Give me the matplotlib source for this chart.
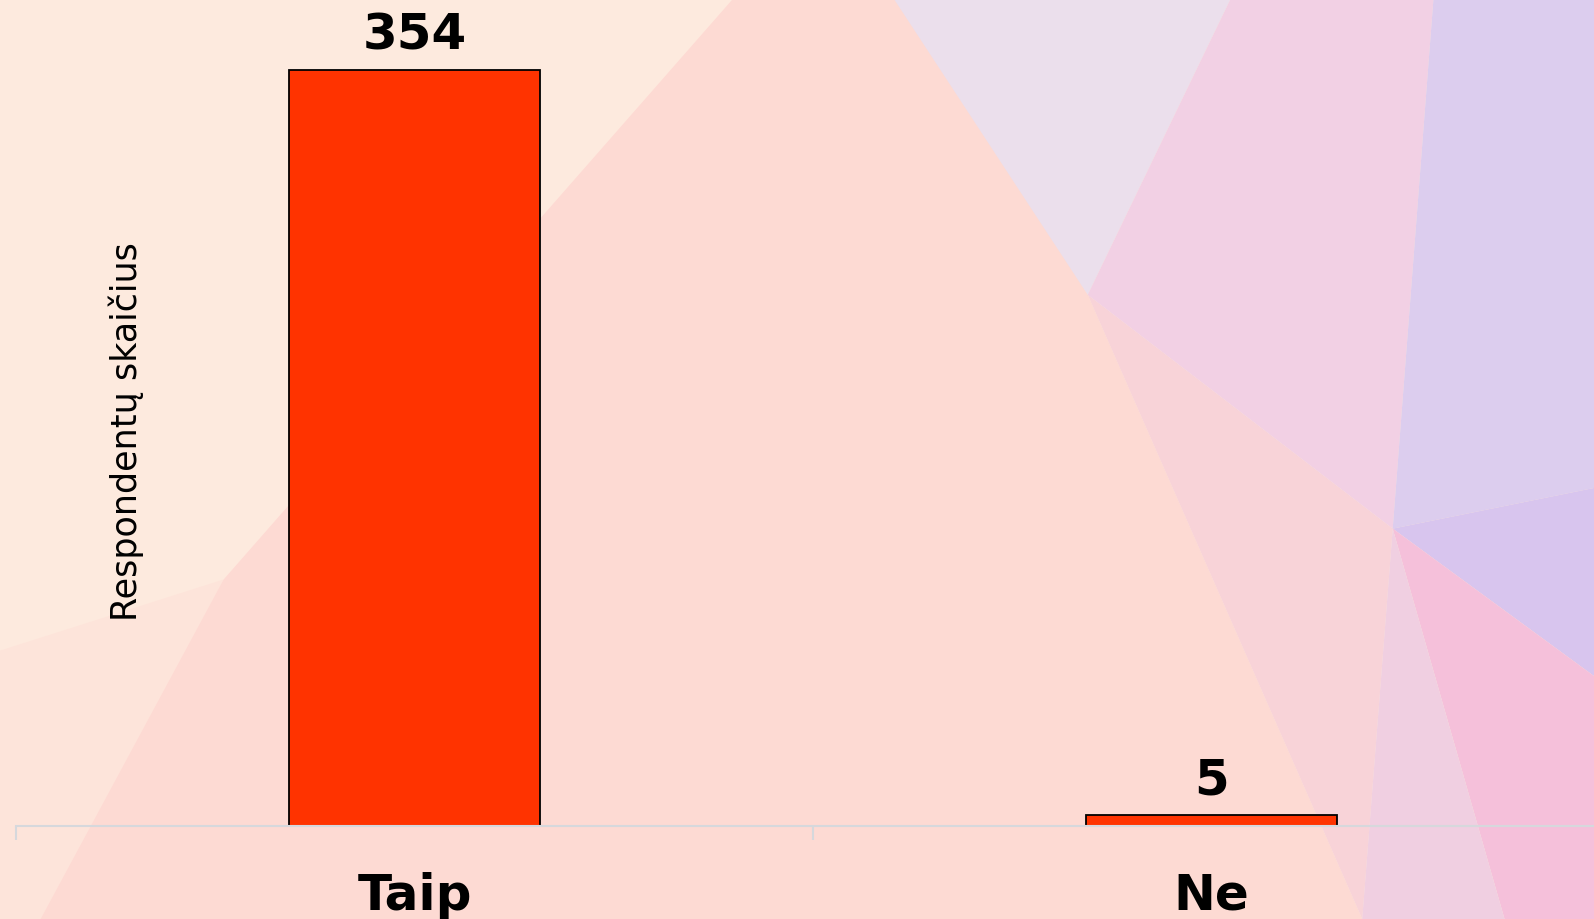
import matplotlib.pyplot as plt
from matplotlib.patches import Polygon

# duomenys
categories = ['Taip', 'Ne']
counts = [354, 5]
y_title = 'Respondentų skaičius'

fig = plt.figure(figsize=(15.94, 9.19), dpi=100)
fig.patch.set_facecolor('#fdeade')

# fono daugiakampiai (koordinatės paveikslo pikseliais, 1568x904)
bg_shapes = [
    ([(0, 904), (0, 640), (220, 570), (60, 904)], '#fde4da'),
    ([(40, 904), (220, 570), (720, 0), (900, 0), (1070, 290), (1340, 904)], '#fddad3'),
    ([(880, 0), (1210, 0), (1070, 290)], '#ebdfec'),
    ([(1070, 290), (1370, 520), (1340, 904)], '#f8d3d8'),
    ([(1210, 0), (1410, 0), (1370, 520), (1070, 290)], '#f2d0e4'),
    ([(1410, 0), (1568, 0), (1568, 480), (1370, 520)], '#dccdee'),
    ([(1370, 520), (1568, 480), (1568, 665)], '#d8c5ee'),
    ([(1370, 520), (1568, 665), (1568, 904), (1480, 904)], '#f5c0da'),
    ([(1370, 520), (1480, 904), (1340, 904)], '#f0cfe1'),
]
for pts, col in bg_shapes:
    xy = [(x / 1568, 1 - y / 904) for x, y in pts]
    fig.add_artist(Polygon(xy, closed=True, facecolor=col, edgecolor='none',
                           transform=fig.transFigure, zorder=0))

ax = fig.add_axes([16 / 1594, 93 / 919, 1594 / 1594, 826 / 919])
ax.set_facecolor('none')
ax.set_zorder(2)

x = list(range(len(categories)))
bars = ax.bar(x, counts, width=0.315, color='#ff3300', edgecolor='black', linewidth=1.3)

for b, v in zip(bars, counts):
    ax.annotate(str(v), (b.get_x() + b.get_width() / 2, v), xytext=(0, 15),
                textcoords='offset points', ha='center', va='baseline',
                fontsize=36, fontweight='bold')

ax.set_xlim(-0.5, 1.5)
ax.set_ylim(0, 386.8)

for s in ['left', 'right', 'top']:
    ax.spines[s].set_visible(False)
ax.spines['bottom'].set_color('#d6d8dc')
ax.spines['bottom'].set_linewidth(1.5)

ax.set_yticks([])
ax.set_xticks(x)
ax.set_xticklabels(categories, fontsize=36, fontweight='bold')
ax.tick_params(axis='x', which='major', length=0, pad=33)
ax.set_xticks([-0.5, 0.5, 1.5], minor=True)
ax.tick_params(axis='x', which='minor', length=10, width=1.5, color='#d6d8dc')

fig.text(126 / 1594, 1 - 432 / 919, y_title, rotation=90, ha='center', va='center',
         fontsize=25.2)

fig.savefig('out.png', dpi=100)
